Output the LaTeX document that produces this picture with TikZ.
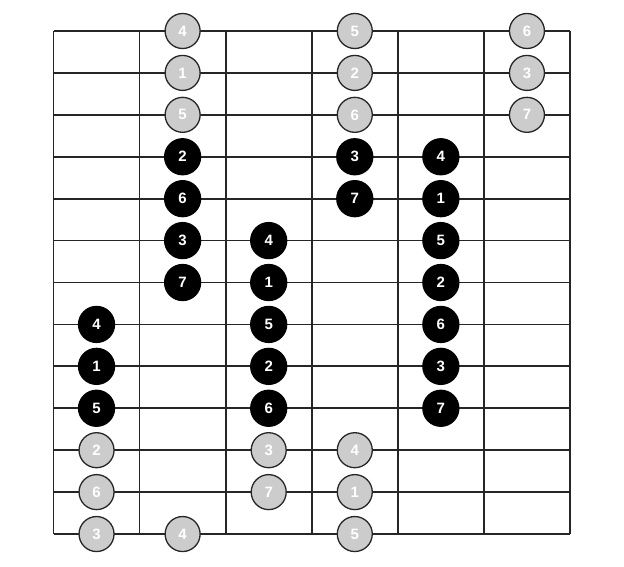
\documentclass[tikz,border=0pt]{standalone}
\usepackage{fontspec}
\setmainfont{Liberation Sans}
\usepackage{tikz}

\tikzset{
    fretline/.style={line width=1.8pt, draw=black!85},
    inscale/.style={circle, fill=black, draw=black, line width=1.3pt, minimum size=36pt, inner sep=0pt, text=white, font=\bfseries\fontsize{15}{15}\selectfont},
    outscale/.style={inscale, fill=black!20, draw=black!85, minimum size=35pt, font=\bfseries\fontsize{15}{15}\selectfont}
}

\begin{document}
\begin{tikzpicture}[x=1pt,y=1pt]
            \useasboundingbox (0,0) rectangle (624,566);

            % grid
            \begin{scope}[fretline]
                \foreach \r in {0,...,12}
                    \draw (53.5,{535-41.92*\r}) -- (570,{535-41.92*\r});
                \foreach \c in {0,...,6}
                    \draw ({53.5+86.08*\c},535) -- ({53.5+86.08*\c},32);
            \end{scope}

            % notes outside the box
            \foreach \r/\c/\t in {0/1/4,0/3/5,0/5/6,1/1/1,1/3/2,1/5/3,2/1/5,2/3/6,2/5/7,
                                  10/0/2,10/2/3,10/3/4,11/0/6,11/2/7,11/3/1,12/0/3,12/1/4,12/3/5}
                \node[outscale] (n-\r-\c) at ({53.5+86.08*(\c+0.5)},{535-41.92*\r}) {\t};

            % notes of the box
            \foreach \r/\c/\t in {3/1/2,3/3/3,3/4/4,4/1/6,4/3/7,4/4/1,5/1/3,5/2/4,5/4/5,
                                  6/1/7,6/2/1,6/4/2,7/0/4,7/2/5,7/4/6,8/0/1,8/2/2,8/4/3,
                                  9/0/5,9/2/6,9/4/7}
                \node[inscale] (n-\r-\c) at ({53.5+86.08*(\c+0.5)},{535-41.92*\r}) {\t};
        \end{tikzpicture}
\end{document}
